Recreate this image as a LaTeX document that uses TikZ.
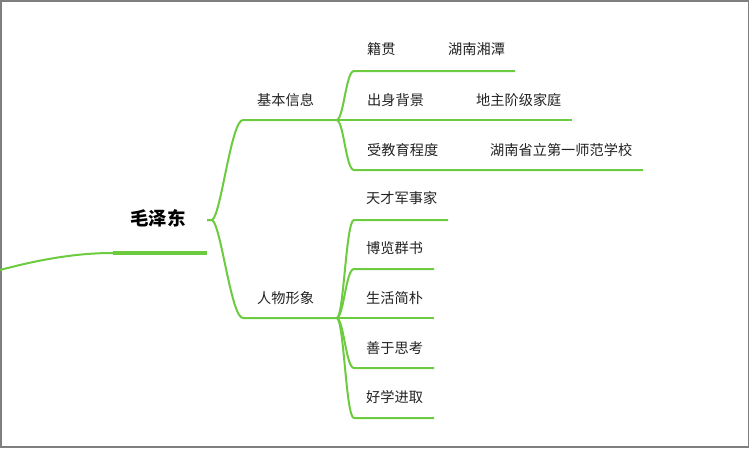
\documentclass[tikz,border=0pt]{standalone}
\usepackage{fontspec}
\newfontfamily\cjk{Noto Sans CJK SC}
\definecolor{mapgreen}{HTML}{6CCB3E}
\definecolor{maptext}{HTML}{222222}
\definecolor{frame}{HTML}{7F7F7F}

\begin{document}
\begin{tikzpicture}[x=1pt, y=-1pt]
  \tikzstyle{t} = [anchor=west, inner sep=0pt, text=maptext,
  font=\cjk\fontsize{14.2}{15}\selectfont];
  \tikzstyle{root} = [inner sep=0pt, text=black,
  font=\cjk\bfseries\fontsize{18.5}{20}\selectfont];
  \tikzstyle{l} = [line width=2pt, color=mapgreen];
  \tikzstyle{bold} = [line width=4.5pt, color=mapgreen];

  \useasboundingbox (0,0) rectangle (750,448);
  \draw[frame, line width=1.5pt] (0.75,0.75) rectangle (748.5,447);

  % root
  \node[root] (mzd) at (158, 218) {毛泽东};
  \coordinate (in) at (0, 270);
  \coordinate (ul0) at (113, 253);
  \coordinate (ul1) at (207, 253);
  \coordinate (tip) at (207, 220);

  % first level
  \node[t] (jb) at (257, 100) {基本信息};
  \node[t] (rw) at (257, 298) {人物形象};
  \coordinate (jb0) at (243, 120);
  \coordinate (jb1) at (337, 120);
  \coordinate (rw0) at (243, 318);
  \coordinate (rw1) at (337, 318);

  % basic info
  \node[t] (jg) at (367, 49) {籍贯};
  \node[t] (jgv) at (448, 49) {湖南湘潭};
  \node[t] (cs) at (367, 100) {出身背景};
  \node[t] (csv) at (476, 100) {地主阶级家庭};
  \node[t] (jy) at (367, 150) {受教育程度};
  \node[t] (jyv) at (490, 150) {湖南省立第一师范学校};
  \coordinate (jg0) at (354, 71);
  \coordinate (jg1) at (515, 71);
  \coordinate (cs1) at (572, 120);
  \coordinate (jy0) at (354, 170);
  \coordinate (jy1) at (643, 170);

  % character
  \node[t] (ts) at (366, 198) {天才军事家};
  \node[t] (bl) at (366, 248) {博览群书};
  \node[t] (sh) at (366, 298) {生活简朴};
  \node[t] (sk) at (366, 348) {善于思考};
  \node[t] (hx) at (366, 397) {好学进取};
  \coordinate (ts0) at (354, 220);
  \coordinate (ts1) at (448, 220);
  \coordinate (bl0) at (354, 269);
  \coordinate (bl1) at (434, 269);
  \coordinate (sh1) at (434, 318);
  \coordinate (sk0) at (354, 368);
  \coordinate (sk1) at (434, 368);
  \coordinate (hx0) at (354, 418);
  \coordinate (hx1) at (434, 418);

  \draw[l] (in) .. controls (45,258) and (80,253) .. (ul0);
  \draw[bold] (ul0) -- (ul1);

  \draw[l] (tip) -- ++(5,0) .. controls +(9,-4) and +(-12,0) .. (jb0) -- (jb1);
  \draw[l] (tip) -- ++(5,0) .. controls +(9,4) and +(-12,0) .. (rw0) -- (rw1);

  \draw[l] (jb1) .. controls +(7,-3) and +(-8,0) .. (jg0) -- (jg1);
  \draw[l] (jb1) -- (cs1);
  \draw[l] (jb1) .. controls +(7,3) and +(-8,0) .. (jy0) -- (jy1);

  \draw[l] (rw1) .. controls +(7,-3) and +(-8,0) .. (ts0) -- (ts1);
  \draw[l] (rw1) .. controls +(7,-3) and +(-8,0) .. (bl0) -- (bl1);
  \draw[l] (rw1) -- (sh1);
  \draw[l] (rw1) .. controls +(7,3) and +(-8,0) .. (sk0) -- (sk1);
  \draw[l] (rw1) .. controls +(7,3) and +(-8,0) .. (hx0) -- (hx1);
\end{tikzpicture}
\end{document}
